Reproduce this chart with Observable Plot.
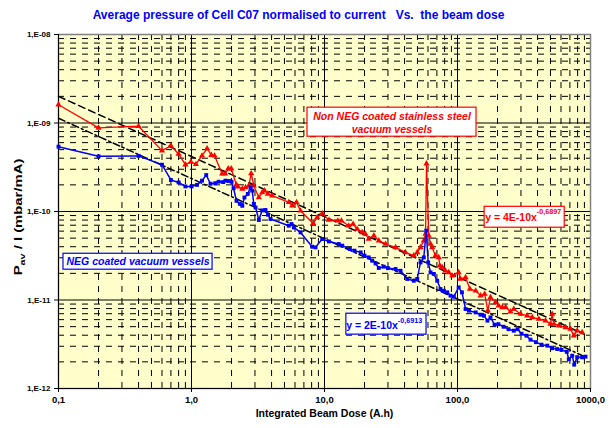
<!DOCTYPE html>
<html><head><meta charset="utf-8">
<script src="https://cdn.jsdelivr.net/npm/d3@7"></script>
<script src="https://cdn.jsdelivr.net/npm/@observablehq/plot@0.6"></script>
<style>
body{margin:0;background:#fff;font-family:"Liberation Sans",Arial,sans-serif;}
#title{height:26px;line-height:30px;text-align:center;font-weight:bold;font-size:12px;color:#0000FF;white-space:pre;width:597px;}
</style></head><body>
<div id="title">Average pressure of Cell C07 normalised to current   Vs.  the beam dose</div>
<div id="chart"></div>
<script>
// Non NEG coated stainless steel vessels (red)
const redX = [0.1,0.2,0.4,0.6,0.7,0.8,0.9,0.99,1.08,1.2,1.31,1.41,1.49,1.7,1.79,1.89,1.99,2.17,2.23,2.41,2.55,2.7,2.81,2.94,3.21,3.4,3.54,3.75,4.04,5.39,5.72,6.16,6.6,8.22,8.81,9.61,10.8,12.6,13.4,15.2,16.4,17.6,19.2,20.3,21.5,23.5,25.6,28.8,34.2,40.6,46.9,49.8,52.7,55.8,57.5,58.5,60.8,62.7,64.5,68.3,72.3,73.6,76.7,81.2,86,91.3,102,105,115,124,137,149,160,169,177,193,204,217,230,250,265,298,334,365,409,459,500,515,530,578,649,707,749,794,866];
const redY = [1.61e-9,8.8e-10,9.2e-10,4.87e-10,5.54e-10,4.47e-10,3.38e-10,3.63e-10,3.42e-10,4.27e-10,5.15e-10,4.33e-10,4.27e-10,2.67e-10,2.67e-10,3.05e-10,3.05e-10,2.01e-10,1.91e-10,1.8e-10,1.87e-10,1.96e-10,2.69e-10,1.96e-10,1.44e-10,1.64e-10,1.72e-10,1.58e-10,1.51e-10,1.27e-10,1.16e-10,1.27e-10,1.02e-10,7.33e-11,8.58e-11,9.52e-11,8.02e-11,7.87e-11,7.87e-11,6.91e-11,7.22e-11,6.34e-11,5.8e-11,5.57e-11,4.89e-11,5.33e-11,4.68e-11,4.29e-11,3.93e-11,3.45e-11,3.17e-11,3.45e-11,3.93e-11,4.68e-11,5.57e-11,3.47e-10,5.33e-11,4.29e-11,3.93e-11,3.17e-11,3.03e-11,2.44e-11,2.34e-11,2.14e-11,2.05e-11,1.88e-11,2.05e-11,1.73e-11,1.8e-11,1.33e-11,1.27e-11,1.12e-11,1.17e-11,7.57e-12,1.07e-11,9.4e-12,8.62e-12,8.25e-12,8.34e-12,7.38e-12,7.91e-12,6.95e-12,6.65e-12,6.36e-12,6.1e-12,5.84e-12,5.36e-12,6.95e-12,5.36e-12,5.13e-12,4.9e-12,4.7e-12,3.95e-12,4.5e-12,4.3e-12];

// NEG coated vessels (blue)
const blueX = [0.1,0.2,0.4,0.6,0.7,0.8,0.9,1.0,1.1,1.2,1.29,1.39,1.51,1.6,1.73,1.8,1.91,2.0,2.07,2.18,2.31,2.41,2.5,2.65,2.78,2.86,2.94,3.03,3.21,3.4,3.6,3.76,3.93,5.39,5.65,5.88,6.6,8.08,8.56,9.61,10.8,12.8,13.6,15.5,16.8,18.7,20,21.5,22.8,24.2,25.6,27.9,30,34.2,37.3,41.9,46.9,49.8,52.7,55.8,58.2,60.2,62.7,66.3,70.4,74.5,78.9,83.7,88.6,93.8,102,108,115,122,137,149,158,168,177,190,203,222,242,265,283,303,330,354,389,428,473,515,562,605,663,687,729,754,794,866,917];
const blueY = [5.4e-10,4.2e-10,4.25e-10,3.38e-10,2.27e-10,2.13e-10,1.92e-10,1.92e-10,2.0e-10,2.23e-10,2.58e-10,2.06e-10,2.09e-10,2.17e-10,2.15e-10,2.23e-10,2.21e-10,2.17e-10,1.83e-10,1.32e-10,1.22e-10,1.16e-10,1.44e-10,1.58e-10,1.87e-10,1.72e-10,1.22e-10,1.11e-10,8.02e-11,1.03e-10,1.04e-10,9.2e-11,8.23e-11,6.91e-11,7.22e-11,6.61e-11,5.8e-11,4.0e-11,3.93e-11,4.89e-11,4.59e-11,4.29e-11,4.11e-11,3.77e-11,3.61e-11,3.45e-11,3.17e-11,3.03e-11,2.78e-11,2.59e-11,2.3e-11,2.38e-11,2.29e-11,2.24e-11,2.14e-11,1.73e-11,1.65e-11,1.73e-11,2.66e-11,3.03e-11,6.07e-11,2.66e-11,2.05e-11,1.97e-11,1.65e-11,1.33e-11,1.27e-11,1.22e-11,1.12e-11,1.09e-11,1.39e-11,1.22e-11,7.91e-12,7.57e-12,7.24e-12,6.82e-12,6.65e-12,5.84e-12,6.36e-12,5.26e-12,5.33e-12,4.99e-12,4.68e-12,4.5e-12,4.68e-12,4.16e-12,3.95e-12,3.56e-12,3.34e-12,3.13e-12,3.05e-12,2.85e-12,2.79e-12,2.73e-12,2.6e-12,2.14e-12,2.35e-12,1.86e-12,2.26e-12,2.25e-12,2.29e-12];

// Power-law trend lines (end points)
const trendX = [0.1, 900];
const trendRedY = [2.0e-9, 4.1e-12];
const trendBlueY = [1.13e-9, 2.3e-12];

// Axis ticks
const xTicks = [0.1, 1, 10, 100, 1000];
const xTickLabels = ["0,1", "1,0", "10,0", "100,0", "1000,0"];
const yTicks = [1e-12, 1e-11, 1e-10, 1e-9, 1e-8];
const yTickLabels = ["1,E-12", "1,E-11", "1,E-10", "1,E-09", "1,E-08"];

// Annotations
const redNote = "Non NEG coated stainless steel\nvacuum vessels";
const blueNote = "NEG coated vacuum vessels";
const redFit = "y = 4E-10x", redExp = "-0,6897";
const blueFit = "y = 2E-10x", blueExp = "-0,6913";

const red = redX.map((x, i) => ({x, y: redY[i]}));
const blue = blueX.map((x, i) => ({x, y: blueY[i]}));
const tRed = trendX.map((x, i) => ({x, y: trendRedY[i]}));
const tBlue = trendX.map((x, i) => ({x, y: trendBlueY[i]}));

const xMinor = [], yMinor = [];
for (let i = 0; i < xTicks.length - 1; i++) for (let k = 2; k <= 9; k++) xMinor.push(xTicks[i] * k);
for (let i = 0; i < yTicks.length - 1; i++) for (let k = 2; k <= 9; k++) yMinor.push(yTicks[i] * k);

const xFmt = d => xTickLabels[Math.round(Math.log10(d)) + 1];
const yFmt = d => yTickLabels[Math.round(Math.log10(d)) + 12];

// annotation placements (data coordinates)
const redBox = {x1: 7.45, x2: 139, y1: 7.0e-10, y2: 1.49e-9, cx: 32.2, cy: 1.02e-9};
const blueBox = {x1: 0.109, x2: 1.44, y1: 2.2e-11, y2: 3.33e-11, cx: 0.396, cy: 2.71e-11};
const redFitBox = {x1: 160, x2: 640, y1: 6.56e-11, y2: 1.13e-10, px: 395, py: 8.63e-11};
const blueFitBox = {x1: 14.6, x2: 58.5, y1: 4.06e-12, y2: 7.0e-12, px: 35.6, py: 5.13e-12};

const font = "Liberation Sans, Arial, sans-serif";

const chart = Plot.plot({
  width: 611, height: 402,
  marginLeft: 58, marginRight: 21, marginTop: 8, marginBottom: 40,
  style: {fontFamily: font, background: "white", overflow: "visible"},
  x: {type: "log", domain: [0.1, 1000]},
  y: {type: "log", domain: [1e-12, 1e-8]},
  marks: [
    Plot.frame({fill: "#FFFFCC", stroke: "none"}),
    Plot.ruleX(xMinor, {stroke: "#000", strokeWidth: 1, strokeDasharray: "6,6"}),
    Plot.ruleY(yMinor, {stroke: "#000", strokeWidth: 1, strokeDasharray: "6,6"}),
    Plot.ruleX(xTicks.slice(1, -1), {stroke: "#000", strokeWidth: 1}),
    Plot.ruleY(yTicks.slice(1, -1), {stroke: "#000", strokeWidth: 1}),
    Plot.frame({stroke: "#808080", strokeWidth: 1.5}),
    Plot.ruleX([xTicks[0]], {stroke: "#000"}),
    Plot.ruleY([yTicks[0]], {stroke: "#000"}),
    Plot.line(tRed, {x: "x", y: "y", stroke: "#000", strokeWidth: 1.5, strokeDasharray: "7,4"}),
    Plot.line(tBlue, {x: "x", y: "y", stroke: "#000", strokeWidth: 1.5, strokeDasharray: "7,3,2,3"}),
    Plot.line(red, {x: "x", y: "y", stroke: "#FF0000", strokeWidth: 1.3}),
    Plot.dot(red, {x: "x", y: "y", symbol: "triangle", r: 2.3, fill: "#FF0000", stroke: "none"}),
    Plot.line(blue, {x: "x", y: "y", stroke: "#0000FF", strokeWidth: 1.5}),
    Plot.dot(blue, {x: "x", y: "y", symbol: "square", r: 2.2, fill: "#0000FF", stroke: "none"}),
    Plot.axisX({ticks: xTicks, tickFormat: xFmt, tickSize: 4, tickPadding: 4, fontSize: 9.5, fontWeight: "bold", label: null}),
    Plot.axisY({ticks: yTicks, tickFormat: yFmt, tickSize: 4, tickPadding: 4, fontSize: 8, fontWeight: "bold", label: null}),
    Plot.text(["Integrated Beam Dose (A.h)"], {frameAnchor: "bottom", dy: 28, fontSize: 10.5, fontWeight: "bold", fill: "#000"}),
    // annotation boxes
    Plot.rect([redBox], {x1: "x1", x2: "x2", y1: "y1", y2: "y2", fill: "white", stroke: "#FF0000", strokeWidth: 1.2}),
    Plot.text([redBox], {x: "cx", y: "cy", text: () => redNote, fill: "#FF0000", fontSize: 10.5, fontWeight: "bold", fontStyle: "italic", lineHeight: 1.25}),
    Plot.rect([blueBox], {x1: "x1", x2: "x2", y1: "y1", y2: "y2", fill: "white", stroke: "#0000FF", strokeWidth: 1.2}),
    Plot.text([blueBox], {x: "cx", y: "cy", text: () => blueNote, fill: "#0000FF", fontSize: 10.5, fontWeight: "bold", fontStyle: "italic"}),
    Plot.rect([redFitBox], {x1: "x1", x2: "x2", y1: "y1", y2: "y2", fill: "white", stroke: "#FF0000", strokeWidth: 1.2}),
    Plot.text([redFitBox], {x: "px", y: "py", text: () => redFit, textAnchor: "end", fill: "#FF0000", fontSize: 10.5, fontWeight: "bold"}),
    Plot.text([redFitBox], {x: "px", y: "py", text: () => redExp, textAnchor: "start", dy: -5, fill: "#FF0000", fontSize: 7.2, fontWeight: "bold"}),
    Plot.rect([blueFitBox], {x1: "x1", x2: "x2", y1: "y1", y2: "y2", fill: "white", stroke: "#0000FF", strokeWidth: 1.2}),
    Plot.text([blueFitBox], {x: "px", y: "py", text: () => blueFit, textAnchor: "end", fill: "#0000FF", fontSize: 10.5, fontWeight: "bold"}),
    Plot.text([blueFitBox], {x: "px", y: "py", text: () => blueExp, textAnchor: "start", dy: -5, fill: "#0000FF", fontSize: 7.2, fontWeight: "bold"})
  ]
});

// y-axis label with subscript
const ylab = d3.select(chart).append("text")
  .attr("transform", "translate(22,191) rotate(-90) scale(1.35,1)")
  .attr("text-anchor", "middle")
  .attr("font-family", font).attr("font-weight", "bold").attr("font-size", 11).attr("fill", "#000");
ylab.append("tspan").text("P");
ylab.append("tspan").attr("dy", 3).attr("font-size", 8).text("av");
ylab.append("tspan").attr("dy", -3).text(" / I (mbar/mA)");

document.getElementById("chart").append(chart);
</script>
</body></html>
